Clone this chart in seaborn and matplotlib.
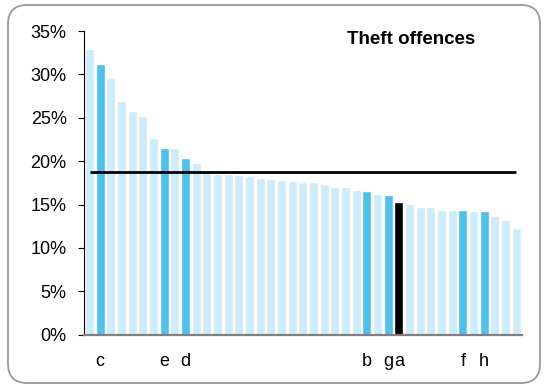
import matplotlib
matplotlib.use("Agg")
import matplotlib.pyplot as plt
import seaborn as sns
import pandas as pd
from matplotlib.patches import FancyBboxPatch

values = [32.9, 31.2, 29.6, 26.9, 25.8, 25.2, 22.7, 21.5, 21.5, 20.4,
          19.8, 19.0, 18.55, 18.5, 18.4, 18.3, 18.1, 18.0, 17.8, 17.7,
          17.6, 17.55, 17.4, 17.05, 17.0, 16.7, 16.55, 16.2, 16.1, 15.3,
          15.05, 14.75, 14.7, 14.4, 14.4, 14.4, 14.3, 14.3, 13.7, 13.2, 12.3]
labels = [""] * len(values)
highlight = {1: "c", 7: "e", 9: "d", 26: "b", 28: "g", 29: "a", 35: "f", 37: "h"}
for i, l in highlight.items():
    labels[i] = l
groups = ["other"] * len(values)
for i in highlight:
    groups[i] = "marked"
groups[29] = "focus"
average = 18.7
title = "Theft offences"
yticks = [0, 5, 10, 15, 20, 25, 30, 35]

palette = {"other": "#CDEBF8", "marked": "#4BC2EC", "focus": "#000000"}

sns.set_style("white")
plt.rcParams['font.family'] = ['Liberation Sans', 'DejaVu Sans']
plt.rcParams['text.color'] = 'black'
plt.rcParams['xtick.color'] = 'black'
plt.rcParams['ytick.color'] = 'black'

df = pd.DataFrame({"pos": list(range(len(values))), "value": values, "group": groups})

fig = plt.figure(figsize=(5.45, 3.87), dpi=100)
ax = fig.add_axes([84/545, 1 - 334.7/387, (522-84)/545, (334.7-31)/387])

sns.barplot(data=df, x="pos", y="value", hue="group", palette=palette,
            dodge=False, legend=False, width=0.84, ax=ax, saturation=1,
            order=list(range(len(values))))

ax.hlines(average, 0, len(values) - 1, color="black", lw=2, zorder=5)

ax.set_xlim(-0.52, len(values) - 0.45)
ax.set_ylim(0, 35)
ax.set_yticks(yticks)
ax.set_yticklabels([f"{t}%" for t in yticks], fontsize=13)
ax.set_xticks(range(len(values)))
ax.set_xticklabels(labels, fontsize=13)
ax.tick_params(axis="x", length=0, pad=13, colors="black")
ax.tick_params(axis="y", length=4.5, width=0.8, direction="out", left=True, pad=8, colors="black")
ax.set_xlabel("")
ax.set_ylabel("")

for s in ["top", "right"]:
    ax.spines[s].set_visible(False)
ax.spines["left"].set_color("black")
ax.spines["left"].set_linewidth(0.8)
ax.spines["bottom"].set_color("#808080")
ax.spines["bottom"].set_linewidth(1.6)

fig.text(411.5/545, 1 - 40/387, title, ha="center", va="center",
         fontsize=13.5, fontweight="bold", color="black")

frame = FancyBboxPatch((8/545, 4/387), (540-8)/545, (382-4)/387,
                       boxstyle="round,pad=0,rounding_size=0.035",
                       transform=fig.transFigure, fill=False,
                       edgecolor="#9A9A9A", linewidth=1.3,
                       mutation_aspect=545/387)
fig.patches.append(frame)

fig.savefig("out.png", dpi=100)
